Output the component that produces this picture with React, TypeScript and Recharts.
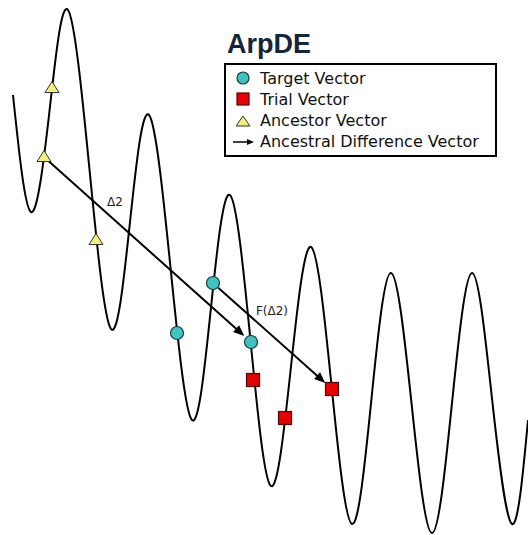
import { ComposedChart, Line, Scatter, XAxis, YAxis, ReferenceLine, ReferenceDot } from 'recharts'

// fitness landscape (generation, fitness) read at peaks, troughs and crossings
const GEN = [1.3, 3.1, 4.95, 6.8, 8.95, 11.1, 13.0, 14.9, 17.05, 19.2, 21.1, 23.0, 25.05, 27.1, 29.1, 31.1, 33.15, 35.2, 37.15, 39.1, 41.15, 43.2, 45.2, 47.2, 49.2, 51.2, 52.8]
const FIT = [44.0, 32.3, 42.4, 52.5, 36.55, 20.6, 31.3, 42.0, 26.75, 11.5, 22.75, 34.0, 19.45, 4.9, 16.85, 28.8, 14.95, 1.1, 13.65, 26.2, 13.2, 0.2, 13.2, 26.2, 13.65, 1.1, 11.5]

const ANCESTORS = [{ x: 5.2, y: 44.7 }, { x: 4.4, y: 37.8 }, { x: 9.6, y: 29.5 }]
const TARGETS = [{ x: 21.3, y: 25.2 }, { x: 17.7, y: 20.2 }, { x: 25.1, y: 19.3 }]
const TRIALS = [{ x: 25.3, y: 15.5 }, { x: 28.5, y: 11.7 }, { x: 33.2, y: 14.6 }]

const ARROWS = [
  { from: ANCESTORS[1], to: TARGETS[2], trimStart: 0, trimEnd: 9 },
  { from: TARGETS[0], to: TRIALS[2], trimStart: 7, trimEnd: 9 },
]
const LABELS = [
  { x: 11.5, y: 33.3, text: 'Δ2' },
  { x: 27.2, y: 22.4, text: 'F(Δ2)' },
]

const curve = GEN.map((g, i) => ({ x: g, y: FIT[i] }))

const FONT = '"DejaVu Sans", sans-serif'

const Triangle = ({ cx, cy }: any) => (
  <polygon points={`${cx - 7},${cy + 4.5} ${cx + 7},${cy + 4.5} ${cx},${cy - 6.5}`} fill="#f2f07c" stroke="#333" strokeWidth={1} />
)
const Circle = ({ cx, cy }: any) => <circle cx={cx} cy={cy} r={6.5} fill="#3ec3c3" stroke="#1d3b3b" strokeWidth={1.2} />
const Square = ({ cx, cy }: any) => <rect x={cx - 6.5} y={cy - 6.5} width={13} height={13} fill="#e60000" stroke="#4a0a0a" strokeWidth={1.2} />

const arrowShape = (trimStart: number, trimEnd: number) => (p: any) => {
  const { x1, y1, x2, y2 } = p
  const dx = x2 - x1
  const dy = y2 - y1
  const len = Math.sqrt(dx * dx + dy * dy) || 1
  const ux = dx / len
  const uy = dy / len
  const sx = x1 + ux * trimStart
  const sy = y1 + uy * trimStart
  const tx = x2 - ux * trimEnd
  const ty = y2 - uy * trimEnd
  const hl = 11
  const hw = 4.5
  const bx = tx - ux * hl
  const by = ty - uy * hl
  return (
    <g>
      <line x1={sx} y1={sy} x2={bx + ux * 2} y2={by + uy * 2} stroke="#000" strokeWidth={2} />
      <polygon points={`${tx},${ty} ${bx - uy * hw},${by + ux * hw} ${bx + uy * hw},${by - ux * hw}`} fill="#000" />
    </g>
  )
}

function LegendBox() {
  const rows = [
    { label: 'Target Vector', icon: <circle cx={10} cy={10} r={6} fill="#3ec3c3" stroke="#1d3b3b" strokeWidth={1.2} /> },
    { label: 'Trial Vector', icon: <rect x={4} y={4} width={12} height={12} fill="#e60000" stroke="#4a0a0a" strokeWidth={1.2} /> },
    { label: 'Ancestor Vector', icon: <polygon points="3,15 17,15 10,5" fill="#f2f07c" stroke="#333" strokeWidth={1} /> },
    {
      label: 'Ancestral Difference Vector',
      icon: (
        <g>
          <line x1={0} y1={10} x2={15} y2={10} stroke="#000" strokeWidth={1.5} />
          <polygon points="21,10 14,7 14,13" fill="#000" />
        </g>
      ),
    },
  ]
  return (
    <div style={{ position: 'absolute', left: 224, top: 63, width: 273, height: 94, boxSizing: 'border-box', border: '2px solid #000', background: '#fff' }}>
      {rows.map((r, i) => (
        <div key={r.label} style={{ position: 'absolute', left: 7, top: 2.5 + i * 21.3, height: 21, display: 'flex', alignItems: 'center' }}>
          <svg width={22} height={20} style={{ display: 'block' }}>{r.icon}</svg>
          <span style={{ marginLeft: 5, fontFamily: FONT, fontSize: 16, lineHeight: '21px', color: '#111', whiteSpace: 'nowrap' }}>{r.label}</span>
        </div>
      ))}
    </div>
  )
}

export default function App() {
  return (
    <div style={{ position: 'absolute', left: 0, top: 0, width: 528, height: 535, background: '#fff', overflow: 'hidden' }}>
      <ComposedChart width={528} height={535} margin={{ top: 0, right: 0, bottom: 0, left: 0 }}>
        <XAxis type="number" dataKey="x" domain={[0, 52.8]} hide allowDataOverflow />
        <YAxis type="number" dataKey="y" domain={[0, 53.5]} hide allowDataOverflow />
        <Line data={curve} dataKey="y" type="natural" stroke="#000" strokeWidth={2} dot={false} activeDot={false} isAnimationActive={false} />
        {ARROWS.map((a, i) => (
          <ReferenceLine key={i} segment={[a.from, a.to]} shape={arrowShape(a.trimStart, a.trimEnd)} />
        ))}
        <Scatter data={ANCESTORS} dataKey="y" shape={Triangle} isAnimationActive={false} />
        <Scatter data={TARGETS} dataKey="y" shape={Circle} isAnimationActive={false} />
        <Scatter data={TRIALS} dataKey="y" shape={Square} isAnimationActive={false} />
        {LABELS.map((l) => (
          <ReferenceDot key={l.text} x={l.x} y={l.y} r={0} fill="none" stroke="none"
            label={{ value: l.text, position: 'center', fontSize: 12, fill: '#222', fontFamily: FONT }} />
        ))}
      </ComposedChart>
      <div style={{ position: 'absolute', left: 227, top: 31, fontFamily: '"Liberation Sans", Arial, sans-serif', fontWeight: 700, fontSize: 27, lineHeight: '27px', color: '#15263a' }}>
        ArpDE
      </div>
      <LegendBox />
    </div>
  )
}
